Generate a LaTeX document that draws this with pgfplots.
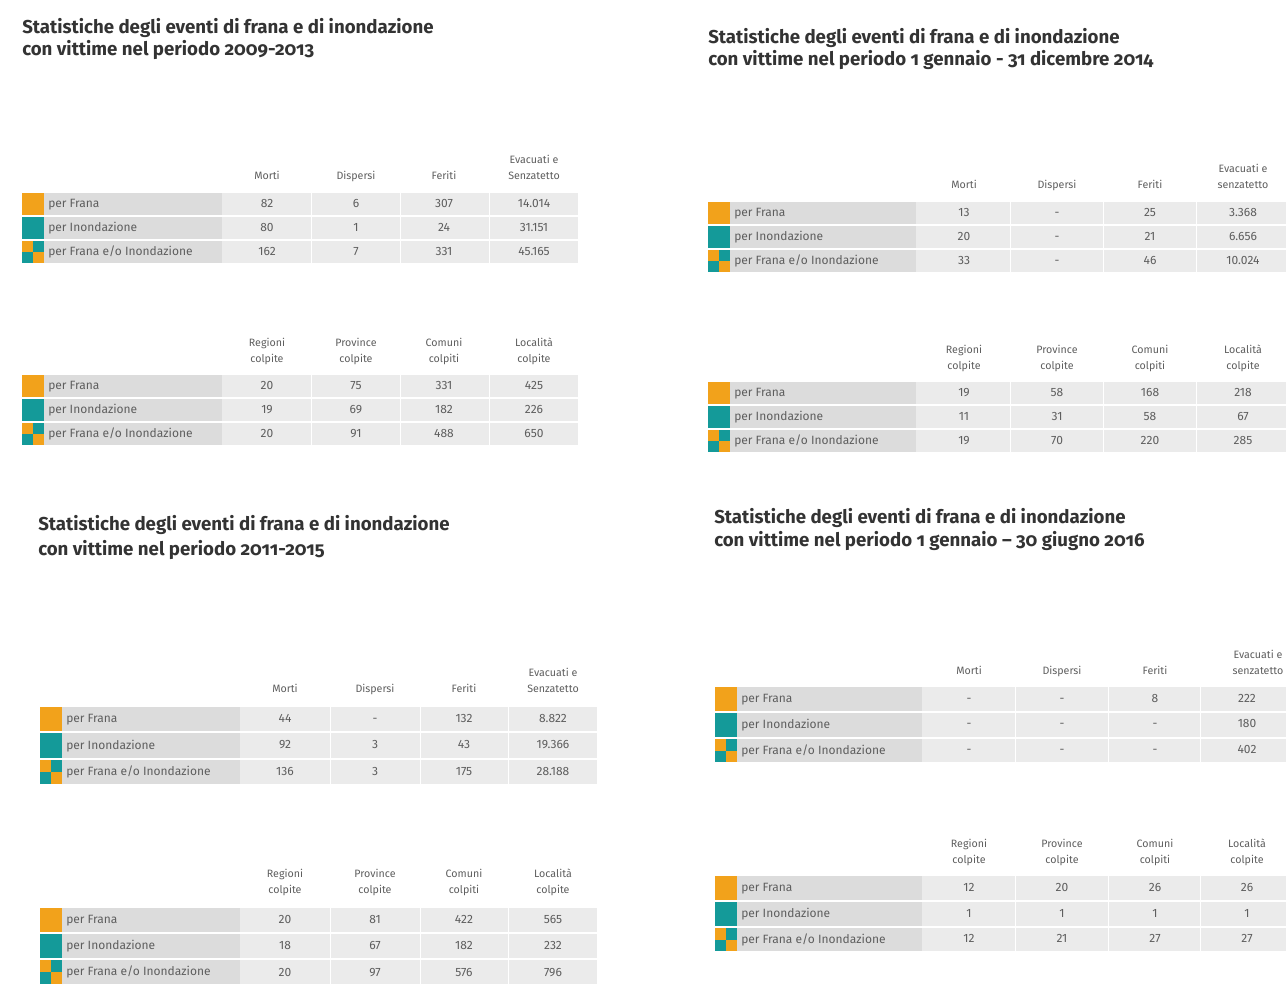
\documentclass[border=0pt]{standalone}
\usepackage{fontspec}
\setmainfont{Fira Sans}
\newfontfamily\titolofont{Fira Sans}[Numbers=OldStyle]
\usepackage{pgfplots}
\pgfplotsset{compat=1.18}
\usetikzlibrary{calc}

\definecolor{arancio}{HTML}{F2A21B}
\definecolor{verdeacqua}{HTML}{149A99}
\definecolor{grigiolab}{HTML}{DCDCDC}
\definecolor{grigioval}{HTML}{EBEBEB}
\definecolor{testo}{HTML}{5E5E5E}
\definecolor{titolo}{HTML}{333333}

\tikzset{
  etic/.style={anchor=mid west, xshift=3pt, inner sep=0pt, font=\fontsize{9}{10}\selectfont, text=testo},
  hdr/.style={anchor=south, align=center, inner sep=0pt, font=\fontsize{8}{11.5}\selectfont, text=testo},
  tit/.style={anchor=base west, inner sep=0pt, font=\titolofont\bfseries\fontsize{14}{16}\selectfont, text=titolo},
}
\pgfplotsset{valori/.style={draw=none, mark=none, nodes near coords,
  point meta=explicit symbolic,
  every node near coord/.append style={anchor=mid, inner sep=0pt,
    font=\fontsize{9}{10}\selectfont, text=testo}}}

% riga: xquadrato xetichetta xvalori xfine ytop ybot icona testo
\newcommand{\riga}[8]{%
  \fill[grigiolab] (axis cs:#2,#5) rectangle (axis cs:#3,#6);
  \fill[grigioval] (axis cs:#3,#5) rectangle (axis cs:#4,#6);
  \ifcase#7\or
    \fill[arancio] (axis cs:#1,#5) rectangle (axis cs:#2,#6);
  \or
    \fill[verdeacqua] (axis cs:#1,#5) rectangle (axis cs:#2,#6);
  \or
    \fill[verdeacqua] (axis cs:#1,#5) rectangle (axis cs:#2,#6);
    \fill[arancio] (axis cs:#1,#5) rectangle ($(axis cs:#1,#5)!0.5!(axis cs:#2,#6)$);
    \fill[arancio] ($(axis cs:#1,#5)!0.5!(axis cs:#2,#6)$) rectangle (axis cs:#2,#6);
  \fi
  \node[etic] at ($(axis cs:#2,#5)!0.5!(axis cs:#2,#6)$) {#8};
}
\newcommand{\divisori}[5]{%
  \draw[white, line width=0.45pt] (axis cs:#1,#4) -- (axis cs:#1,#5);
  \draw[white, line width=0.45pt] (axis cs:#2,#4) -- (axis cs:#2,#5);
  \draw[white, line width=0.45pt] (axis cs:#3,#4) -- (axis cs:#3,#5);
}

\begin{document}
\begin{tikzpicture}
\useasboundingbox (0,0) rectangle (964.5pt,737.25pt);
\begin{axis}[at={(0,0)}, anchor=south west, scale only axis,
  width=964.5pt, height=737.25pt,
  xmin=0, xmax=1286, ymin=0, ymax=983, y dir=reverse,
  hide axis, clip=true]

%% ---------- 2009-2013
\node[tit] at (axis cs:22,33) {Statistiche degli eventi di frana e di inondazione};
\node[tit] at (axis cs:22,55) {con vittime nel periodo 2009-2013};
\node[hdr] at (axis cs:267,184) {Morti\strut};
\node[hdr] at (axis cs:356,184) {Dispersi\strut};
\node[hdr] at (axis cs:444,184) {Feriti\strut};
\node[hdr] at (axis cs:534,184) {Evacuati e\\Senzatetto\strut};
\riga{22}{44}{222}{578}{193}{215}{1}{per Frana}
\riga{22}{44}{222}{578}{217}{239}{2}{per Inondazione}
\riga{22}{44}{222}{578}{241}{263}{3}{per Frana e/o Inondazione}
\divisori{311}{400}{489}{193}{263}
\addplot[valori] table[meta=v] {
x y v
267 204 82
356 204 6
444 204 307
534 204 14.014
267 228 80
356 228 1
444 228 24
534 228 31.151
267 252 162
356 252 7
444 252 331
534 252 45.165
};
\node[hdr] at (axis cs:267,367) {Regioni\\colpite\strut};
\node[hdr] at (axis cs:356,367) {Province\\colpite\strut};
\node[hdr] at (axis cs:444,367) {Comuni\\colpiti\strut};
\node[hdr] at (axis cs:534,367) {Località\\colpite\strut};
\riga{22}{44}{222}{578}{375}{397}{1}{per Frana}
\riga{22}{44}{222}{578}{399}{421}{2}{per Inondazione}
\riga{22}{44}{222}{578}{423}{445}{3}{per Frana e/o Inondazione}
\divisori{311}{400}{489}{375}{445}
\addplot[valori] table[meta=v] {
x y v
267 386 20
356 386 75
444 386 331
534 386 425
267 410 19
356 410 69
444 410 182
534 410 226
267 434 20
356 434 91
444 434 488
534 434 650
};

%% ---------- 2014
\node[tit] at (axis cs:708,43) {Statistiche degli eventi di frana e di inondazione};
\node[tit] at (axis cs:708,65) {con vittime nel periodo 1 gennaio - 31 dicembre 2014};
\node[hdr] at (axis cs:964,193) {Morti\strut};
\node[hdr] at (axis cs:1057,193) {Dispersi\strut};
\node[hdr] at (axis cs:1150,193) {Feriti\strut};
\node[hdr] at (axis cs:1243,193) {Evacuati e\\senzatetto\strut};
\riga{708}{730}{916}{1286}{202}{224}{1}{per Frana}
\riga{708}{730}{916}{1286}{226}{248}{2}{per Inondazione}
\riga{708}{730}{916}{1286}{250}{272}{3}{per Frana e/o Inondazione}
\divisori{1010}{1103}{1196}{202}{272}
\addplot[valori] table[meta=v] {
x y v
964 213 13
1057 213 -
1150 213 25
1243 213 3.368
964 237 20
1057 237 -
1150 237 21
1243 237 6.656
964 261 33
1057 261 -
1150 261 46
1243 261 10.024
};
\node[hdr] at (axis cs:964,374) {Regioni\\colpite\strut};
\node[hdr] at (axis cs:1057,374) {Province\\colpite\strut};
\node[hdr] at (axis cs:1150,374) {Comuni\\colpiti\strut};
\node[hdr] at (axis cs:1243,374) {Località\\colpite\strut};
\riga{708}{730}{916}{1286}{382}{404}{1}{per Frana}
\riga{708}{730}{916}{1286}{406}{428}{2}{per Inondazione}
\riga{708}{730}{916}{1286}{430}{452}{3}{per Frana e/o Inondazione}
\divisori{1010}{1103}{1196}{382}{452}
\addplot[valori] table[meta=v] {
x y v
964 393 19
1057 393 58
1150 393 168
1243 393 218
964 417 11
1057 417 31
1150 417 58
1243 417 67
964 441 19
1057 441 70
1150 441 220
1243 441 285
};

%% ---------- 2011-2015
\node[tit] at (axis cs:38,530) {Statistiche degli eventi di frana e di inondazione};
\node[tit] at (axis cs:38,555) {con vittime nel periodo 2011-2015};
\node[hdr] at (axis cs:285,697) {Morti\strut};
\node[hdr] at (axis cs:375,697) {Dispersi\strut};
\node[hdr] at (axis cs:464,697) {Feriti\strut};
\node[hdr] at (axis cs:553,697) {Evacuati e\\Senzatetto\strut};
\riga{40}{62}{240}{597}{707}{731}{1}{per Frana}
\riga{40}{62}{240}{597}{733}{758}{2}{per Inondazione}
\riga{40}{62}{240}{597}{760}{784}{3}{per Frana e/o Inondazione}
\divisori{330}{420}{508}{707}{784}
\addplot[valori] table[meta=v] {
x y v
285 719 44
375 719 -
464 719 132
553 719 8.822
285 745 92
375 745 3
464 745 43
553 745 19.366
285 772 136
375 772 3
464 772 175
553 772 28.188
};
\node[hdr] at (axis cs:285,898) {Regioni\\colpite\strut};
\node[hdr] at (axis cs:375,898) {Province\\colpite\strut};
\node[hdr] at (axis cs:464,898) {Comuni\\colpiti\strut};
\node[hdr] at (axis cs:553,898) {Località\\colpite\strut};
\riga{40}{62}{240}{597}{908}{932}{1}{per Frana}
\riga{40}{62}{240}{597}{934}{958}{2}{per Inondazione}
\riga{40}{62}{240}{597}{960}{984}{3}{per Frana e/o Inondazione}
\divisori{330}{420}{508}{908}{984}
\addplot[valori] table[meta=v] {
x y v
285 920 20
375 920 81
464 920 422
553 920 565
285 946 18
375 946 67
464 946 182
553 946 232
285 973 20
375 973 97
464 973 576
553 973 796
};

%% ---------- 2016
\node[tit] at (axis cs:714,523) {Statistiche degli eventi di frana e di inondazione};
\node[tit] at (axis cs:714,546) {con vittime nel periodo 1 gennaio – 30 giugno 2016};
\node[hdr] at (axis cs:969,679) {Morti\strut};
\node[hdr] at (axis cs:1062,679) {Dispersi\strut};
\node[hdr] at (axis cs:1155,679) {Feriti\strut};
\node[hdr] at (axis cs:1258,679) {Evacuati e\\senzatetto\strut};
\riga{715}{737}{922}{1286}{687}{711}{1}{per Frana}
\riga{715}{737}{922}{1286}{713}{737}{2}{per Inondazione}
\riga{715}{737}{922}{1286}{739}{762}{3}{per Frana e/o Inondazione}
\divisori{1015}{1108}{1200}{687}{762}
\addplot[valori] table[meta=v] {
x y v
969 699 -
1062 699 -
1155 699 8
1247 699 222
969 724 -
1062 724 -
1155 724 -
1247 724 180
969 750 -
1062 750 -
1155 750 -
1247 750 402
};
\node[hdr] at (axis cs:969,868) {Regioni\\colpite\strut};
\node[hdr] at (axis cs:1062,868) {Province\\colpite\strut};
\node[hdr] at (axis cs:1155,868) {Comuni\\colpiti\strut};
\node[hdr] at (axis cs:1247,868) {Località\\colpite\strut};
\riga{715}{737}{922}{1286}{876}{900}{1}{per Frana}
\riga{715}{737}{922}{1286}{902}{926}{2}{per Inondazione}
\riga{715}{737}{922}{1286}{928}{951}{3}{per Frana e/o Inondazione}
\divisori{1015}{1108}{1200}{876}{951}
\addplot[valori] table[meta=v] {
x y v
969 888 12
1062 888 20
1155 888 26
1247 888 26
969 914 1
1062 914 1
1155 914 1
1247 914 1
969 939 12
1062 939 21
1155 939 27
1247 939 27
};
\end{axis}
\end{tikzpicture}
\end{document}
